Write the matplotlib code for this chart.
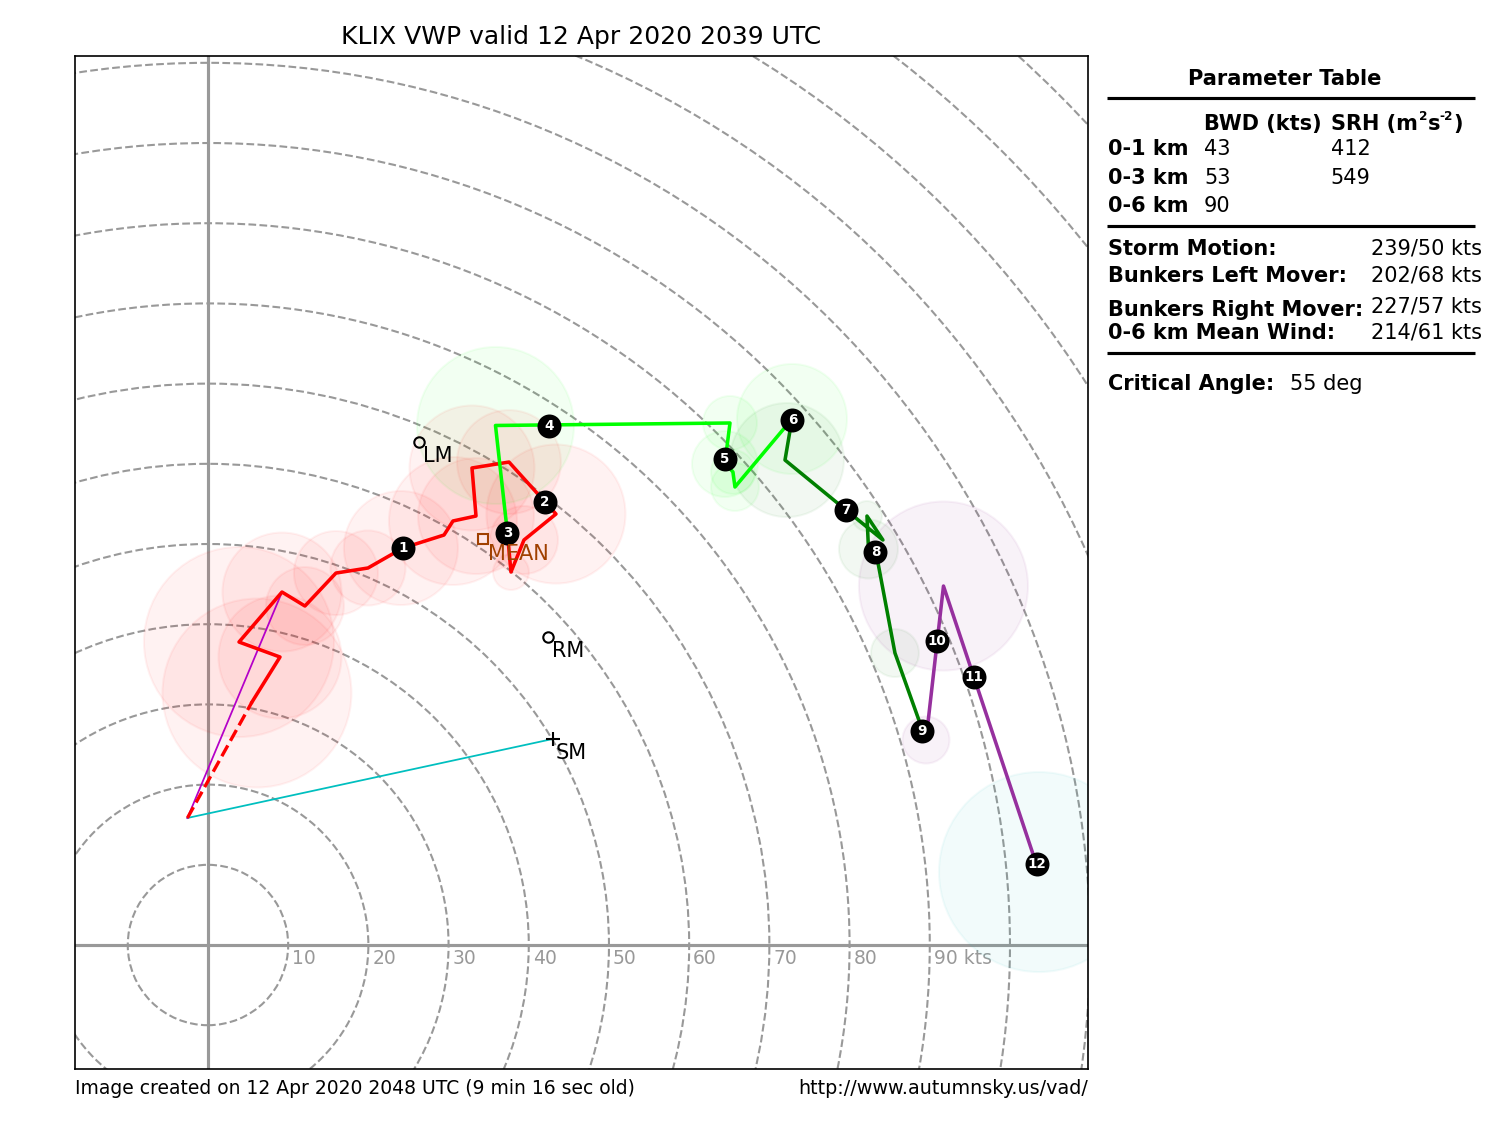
import matplotlib
matplotlib.use("Agg")
import matplotlib.pyplot as plt
from matplotlib.lines import Line2D
from matplotlib.patches import Circle

# hodograph segments, u / v in kts
dash_u = [-2.56, 5.49]
dash_v = [15.84, 30.30]
red_u = [5.49, 8.98, 3.87, 9.23, 12.09, 15.96, 19.95, 24.31, 29.43, 30.55, 33.42, 32.92, 37.53, 43.39, 39.40, 37.78, 37.34]
red_v = [30.30, 35.91, 37.78, 44.01, 42.27, 46.38, 47.01, 49.50, 51.12, 52.87, 53.49, 59.48, 60.22, 53.74, 50.50, 46.51, 51.37]
lime_u = [37.34, 35.85, 65.09, 64.46, 65.46, 65.71, 72.82]
lime_v = [51.37, 64.78, 65.09, 60.10, 58.98, 57.11, 65.59]
green_u = [72.82, 71.95, 79.55, 84.16, 82.17, 82.36, 83.29, 85.66, 89.53]
green_v = [65.59, 60.47, 54.24, 50.50, 53.49, 49.38, 49.00, 36.41, 25.56]
purple_u = [89.53, 91.71, 103.62]
purple_v = [25.56, 44.76, 9.10]

# uncertainty rings: u, v, radius
red_rings_u = [6.11, 8.98, 3.87, 9.23, 12.09, 15.96, 19.95, 24.06, 30.55, 33.42, 32.92, 37.53, 43.39, 39.40, 37.78]
red_rings_v = [31.42, 35.91, 37.78, 44.01, 42.27, 46.38, 47.01, 49.50, 52.87, 53.49, 59.48, 60.22, 53.74, 50.50, 46.51]
red_rings_r = [11.78, 7.67, 11.85, 7.42, 4.86, 5.24, 4.68, 7.11, 7.98, 7.23, 7.79, 6.48, 8.67, 4.24, 2.24]
lime_rings_u = [35.85, 65.09, 64.46, 65.46, 65.71, 72.82]
lime_rings_v = [64.78, 65.09, 59.98, 58.98, 57.11, 65.59]
lime_rings_r = [9.79, 3.37, 4.11, 2.74, 2.99, 6.86]
green_rings_u = [72.19, 82.17, 82.36, 85.66]
green_rings_v = [60.47, 53.49, 49.38, 36.41]
green_rings_r = [7.11, 1.87, 3.68, 2.99]
purple_rings_u = [89.53, 91.71]
purple_rings_v = [25.56, 44.76]
purple_rings_r = [2.93, 10.54]
cyan_rings_u = [103.62]
cyan_rings_v = [9.10]
cyan_rings_r = [12.47]

# height markers (km)
km_labels = ["1", "2", "3", "4", "5", "6", "7", "8", "9", "10", "11", "12"]
km_u = [24.31, 42.02, 37.34, 42.52, 64.46, 72.88, 79.55, 83.23, 89.03, 90.90, 95.51, 103.37]
km_v = [49.50, 55.24, 51.43, 64.71, 60.60, 65.46, 54.24, 49.00, 26.68, 37.91, 33.42, 10.10]

surface = (-2.56, 15.84)
lm = (26.37, 62.72)
rm = (42.46, 38.40)
sm = (42.98, 25.69)
mean = (34.29, 50.62)

speed_rings = [10, 20, 30, 40, 50, 60, 70, 80, 90, 100, 110, 120, 130, 140, 150, 160]
speed_labels = ["10", "20", "30", "40", "50", "60", "70", "80", "90 kts"]

fig = plt.figure(figsize=(10, 7.5), dpi=150)
ax = fig.add_axes([75 / 1500, 1 - 1069 / 1125, 1013 / 1500, 1013 / 1125])
ax.set_xlim(-16.58, 109.73)
ax.set_ylim(-15.46, 110.85)
ax.set_xticks([])
ax.set_yticks([])
ax.set_title("KLIX VWP valid 12 Apr 2020 2039 UTC", fontsize=12.03, pad=5.8)

ax.axvline(0, color="#999999", lw=1.5, zorder=1)
ax.axhline(0, color="#999999", lw=1.5, zorder=1)
for spd in speed_rings:
    ax.add_patch(Circle((0, 0), spd, fill=False, ec="#999999", lw=1, ls="--", zorder=1))
for spd, lab in zip(speed_rings, speed_labels):
    ax.text(spd + 0.5, -1.65, lab, color="#999999", fontsize=9, ha="left", va="center", zorder=2)


def draw_rings(us, vs, rs, color):
    for u, v, r in zip(us, vs, rs):
        ax.add_patch(Circle((u, v), r, color=color, alpha=0.05, zorder=2))


draw_rings(red_rings_u, red_rings_v, red_rings_r, "r")
draw_rings(lime_rings_u, lime_rings_v, lime_rings_r, "#00ff00")
draw_rings(green_rings_u, green_rings_v, green_rings_r, "g")
draw_rings(purple_rings_u, purple_rings_v, purple_rings_r, "purple")
draw_rings(cyan_rings_u, cyan_rings_v, cyan_rings_r, "c")

ax.plot([surface[0], sm[0]], [surface[1], sm[1]], color="c", lw=0.85, zorder=3)
ax.plot([surface[0], red_u[3]], [surface[1], red_v[3]], color="#b400c8", lw=0.85, zorder=3)

ax.plot(dash_u, dash_v, color="r", lw=1.6, ls="--", zorder=4)
ax.plot(red_u, red_v, color="r", lw=1.7, zorder=4)
ax.plot(lime_u, lime_v, color="#00ff00", lw=1.7, zorder=4)
ax.plot(green_u, green_v, color="g", lw=1.7, zorder=4)
ax.plot(purple_u, purple_v, color="#96309e", lw=1.7, zorder=4)

ax.plot(km_u, km_v, ls="none", marker="o", ms=10.5, color="k", zorder=5)
for lab, u, v in zip(km_labels, km_u, km_v):
    ax.text(u, v, lab, color="w", fontsize=6.5, fontweight="bold", ha="center", va="center", zorder=6)

ax.plot(*lm, marker="o", ms=5, mfc="none", mec="k", mew=1, zorder=5)
ax.plot(*rm, marker="o", ms=5, mfc="none", mec="k", mew=1, zorder=5)
ax.plot(*sm, marker="+", ms=7, color="k", mew=1, zorder=5)
ax.plot(*mean, marker="s", ms=5, mfc="none", mec="#a04000", mew=1, zorder=5)
ax.text(lm[0] + 0.5, lm[1] - 1.7, "LM", fontsize=10, ha="left", va="center", zorder=5)
ax.text(rm[0] + 0.4, rm[1] - 1.7, "RM", fontsize=10, ha="left", va="center", zorder=5)
ax.text(sm[0] + 0.35, sm[1] - 1.7, "SM", fontsize=10, ha="left", va="center", zorder=5)
ax.text(mean[0] + 0.6, mean[1] - 1.87, "MEAN", fontsize=10, color="#a04000", ha="left", va="center", zorder=5)


def txt(x, y, s, **kw):
    # positions given in image pixels
    fig.text(x / 1500, 1 - y / 1125, s, va="baseline", **kw)


def rule(y):
    fig.add_artist(Line2D([1107 / 1500, 1475 / 1500], [1 - y / 1125] * 2, color="k", lw=1.5,
                          solid_capstyle="butt"))


txt(1285, 85, "Parameter Table", fontsize=10.1, fontweight="bold", ha="center")
rule(98)
txt(1204, 130, "BWD (kts)", fontsize=10.05, fontweight="bold")
# superscripts are laid out by hand, they sit tight against the letters
txt(1331, 130, "SRH (m", fontsize=10.05, fontweight="bold")
txt(1419, 120, "2", fontsize=5.8, fontweight="bold")
txt(1427.5, 130, "s", fontsize=10.05, fontweight="bold")
txt(1439, 120, "-2", fontsize=5.8, fontweight="bold")
txt(1453, 130, ")", fontsize=10.05, fontweight="bold")
txt(1108, 155, "0-1 km", fontsize=10, fontweight="bold")
txt(1204, 155, "43", fontsize=10)
txt(1331, 155, "412", fontsize=10)
txt(1108, 184.5, "0-3 km", fontsize=10, fontweight="bold")
txt(1204.5, 184, "53", fontsize=10)
txt(1330.5, 184, "549", fontsize=10)
txt(1108, 212, "0-6 km", fontsize=10, fontweight="bold")
txt(1204, 212, "90", fontsize=10)
rule(226)
txt(1108, 255, "Storm Motion:", fontsize=10, fontweight="bold")
txt(1371, 254, "239/50 kts", fontsize=10)
txt(1108, 282.5, "Bunkers Left Mover:", fontsize=10, fontweight="bold")
txt(1371, 282, "202/68 kts", fontsize=10)
txt(1108, 316, "Bunkers Right Mover:", fontsize=10, fontweight="bold")
txt(1371, 312, "227/57 kts", fontsize=10)
txt(1108, 339, "0-6 km Mean Wind:", fontsize=10, fontweight="bold")
txt(1371, 338, "214/61 kts", fontsize=10)
rule(353)
txt(1108, 390, "Critical Angle:", fontsize=10, fontweight="bold")
txt(1290, 390, "55 deg", fontsize=10)

txt(75, 1094, "Image created on 12 Apr 2020 2048 UTC (9 min 16 sec old)", fontsize=9.02)
txt(1088, 1094, "http://www.autumnsky.us/vad/", fontsize=9.2, ha="right")

fig.savefig("out.png", dpi=150)
